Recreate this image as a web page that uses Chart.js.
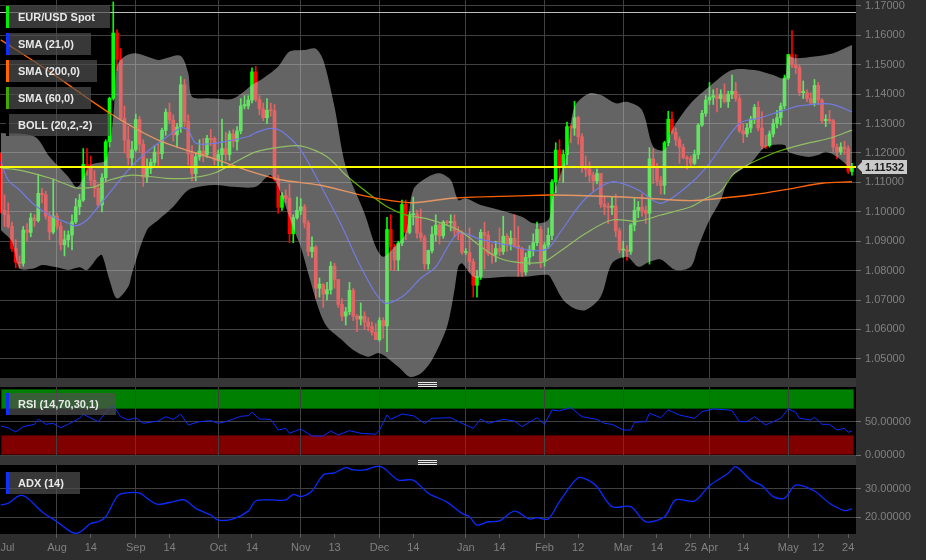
<!DOCTYPE html>
<html>
<head>
<meta charset="utf-8">
<script src="https://cdn.jsdelivr.net/npm/chart.js@4.4.1/dist/chart.umd.min.js"></script>
<style>
  body { margin: 0; background: #2e2e2e; width: 926px; height: 560px; overflow: hidden; position: relative;
         font-family: "Liberation Sans", Arial, sans-serif; }
  canvas { position: absolute; left: 0; }
  .sep { position: absolute; left: 0; width: 856px; height: 9px; background: #363636; }
  .grip { position: absolute; left: 418px; top: 4px; width: 19px; height: 3px;
          border-top: 1px solid #e8e8e8; border-bottom: 1px solid #e8e8e8; }
  .grip:after { content: ""; position: absolute; left: 0; right: 0; top: 1px; height: 1px; background: #e8e8e8; }
  .tag { position: absolute; left: 6px; height: 22px; line-height: 22px; box-sizing: border-box;
         background: rgba(80,80,80,0.7); color: #e8e8e8; font-weight: bold; font-size: 11px;
         border-left: 3px solid; padding-left: 9px; white-space: nowrap; }
</style>
</head>
<body>
<div class="sep" style="top:378px"><div class="grip"></div></div>
<div class="sep" style="top:456px"><div class="grip"></div></div>
<canvas id="mainChart" width="926" height="378" style="top:0"></canvas>
<canvas id="rsiChart" width="926" height="82" style="top:381px"></canvas>
<canvas id="adxChart" width="926" height="95" style="top:465px"></canvas>
<div class="tag" style="top:6px;width:104px;border-color:#00ee00">EUR/USD Spot</div>
<div class="tag" style="top:33px;width:85px;border-color:#1030ff">SMA (21,0)</div>
<div class="tag" style="top:60px;width:91px;border-color:#ff6600">SMA (200,0)</div>
<div class="tag" style="top:87px;width:85px;border-color:#40a800">SMA (60,0)</div>
<div class="tag" style="top:114px;width:104px;border-color:#000">BOLL (20,2,-2)</div>
<div class="tag" style="top:393px;width:110px;border-color:#1030ff">RSI (14,70,30,1)</div>
<div class="tag" style="top:472px;width:74px;border-color:#1030ff">ADX (14)</div>
<script>
Chart.defaults.font.family = '"Liberation Sans", Arial, sans-serif';
Chart.defaults.animation = false;

// daily candles, trading day 8 (13 Jul 2015) to day 235 (25 May 2016)
var firstDay = 8;
var openP = [
  1.1160,1.1005,1.0990,1.0950,1.0875,1.0828,1.0825,1.0938,1.0930,1.0979,
  1.0970,1.1063,1.1058,1.0985,1.0931,1.0986,1.0951,1.0888,1.0905,1.0921,
  1.0966,1.1017,1.1040,1.1161,1.1149,1.1107,1.1080,1.1023,1.1116,1.1238,
  1.1386,1.1608,1.1519,1.1318,1.1244,1.1183,1.1211,1.1314,1.1230,1.1118,
  1.1148,1.1168,1.1203,1.1198,1.1277,1.1339,1.1312,1.1262,1.1288,1.1432,
  1.1307,1.1197,1.1130,1.1187,1.1207,1.1195,1.1250,1.1250,1.1175,1.1195,
  1.1215,1.1195,1.1265,1.1240,1.1275,1.1360,1.1360,1.1380,1.1476,1.1382,
  1.1350,1.1320,1.1345,1.1344,1.1110,1.1015,1.1055,1.1046,1.0925,1.0980,
  1.1005,1.1017,1.0962,1.0865,1.0880,1.0740,1.0754,1.0720,1.0735,1.0815,
  1.0770,1.0685,1.0645,1.0660,1.0733,1.0645,1.0635,1.0645,1.0625,1.0610,
  1.0590,1.0565,1.0630,1.0612,1.0940,1.0880,1.0836,1.0894,1.1025,1.0930,
  1.0990,1.0993,1.0928,1.0912,1.0823,1.0868,1.0923,1.0955,1.0918,1.0965,
  1.0963,1.0967,1.0935,1.0928,1.0862,1.0862,1.0830,1.0750,1.0780,1.0930,
  1.0920,1.0858,1.0855,1.0875,1.0865,1.0917,1.0890,1.0910,1.0885,1.0875,
  1.0795,1.0845,1.0870,1.0895,1.0940,1.0830,1.0887,1.0920,1.1102,1.1210,
  1.1155,1.1195,1.1290,1.1285,1.1320,1.1255,1.1155,1.1145,1.1125,1.1105,
  1.1130,1.1025,1.1017,1.1015,1.1020,1.0935,1.0870,1.0870,1.0865,1.0955,
  1.1005,1.1015,1.1005,1.0995,1.1180,1.1150,1.1105,1.1090,1.1235,1.1315,
  1.1270,1.1245,1.1220,1.1185,1.1180,1.1165,1.1195,1.1295,1.1335,1.1380,
  1.1390,1.1395,1.1385,1.1400,1.1375,1.1400,1.1410,1.1385,1.1275,1.1265,
  1.1285,1.1315,1.1355,1.1285,1.1225,1.1225,1.1265,1.1300,1.1320,1.1360,
  1.1455,1.1535,1.1500,1.1490,1.1405,1.1405,1.1385,1.1370,1.1430,1.1380,
  1.1310,1.1315,1.1310,1.1220,1.1205,1.1220,1.1215,1.1137
];
var highP = [
  1.1200,1.1058,1.1030,1.0965,1.0905,1.0850,1.0950,1.0960,1.0995,1.0990,
  1.1128,1.1080,1.1070,1.0998,1.1112,1.0995,1.0965,1.0935,1.0935,1.0990,
  1.1045,1.1060,1.1215,1.1215,1.1190,1.1140,1.1095,1.1130,1.1245,1.1390,
  1.1714,1.1620,1.1555,1.1360,1.1290,1.1240,1.1332,1.1325,1.1245,1.1180,
  1.1180,1.1225,1.1230,1.1285,1.1350,1.1370,1.1330,1.1300,1.1460,1.1450,
  1.1330,1.1225,1.1200,1.1245,1.1250,1.1260,1.1280,1.1255,1.1210,1.1315,
  1.1270,1.1275,1.1280,1.1290,1.1385,1.1395,1.1395,1.1490,1.1495,1.1395,
  1.1370,1.1385,1.1370,1.1365,1.1125,1.1065,1.1075,1.1095,1.0990,1.1050,
  1.1045,1.1025,1.0970,1.0915,1.0885,1.0775,1.0755,1.0760,1.0830,1.0825,
  1.0770,1.0705,1.0675,1.0760,1.0740,1.0650,1.0690,1.0660,1.0640,1.0625,
  1.0620,1.0640,1.0640,1.0981,1.0990,1.0890,1.0900,1.1040,1.1040,1.1000,
  1.1050,1.1005,1.1010,1.0920,1.0870,1.0950,1.0990,1.0960,1.0970,1.0970,
  1.0990,1.0990,1.0950,1.0935,1.0875,1.0945,1.0840,1.0800,1.0940,1.0965,
  1.0935,1.0890,1.0900,1.0945,1.0985,1.0925,1.0935,1.0990,1.0950,1.0880,
  1.0860,1.0885,1.0925,1.0965,1.0950,1.0895,1.0945,1.1110,1.1235,1.1245,
  1.1210,1.1305,1.1295,1.1376,1.1325,1.1265,1.1190,1.1170,1.1135,1.1145,
  1.1130,1.1050,1.1030,1.1050,1.1060,1.0945,1.0900,1.0885,1.0960,1.1045,
  1.1035,1.1060,1.1020,1.1218,1.1215,1.1165,1.1120,1.1240,1.1342,1.1340,
  1.1285,1.1255,1.1230,1.1190,1.1190,1.1210,1.1300,1.1345,1.1395,1.1440,
  1.1415,1.1420,1.1415,1.1435,1.1410,1.1465,1.1440,1.1400,1.1300,1.1300,
  1.1325,1.1365,1.1375,1.1340,1.1260,1.1275,1.1315,1.1345,1.1370,1.1465,
  1.1535,1.1616,1.1535,1.1500,1.1445,1.1415,1.1405,1.1450,1.1440,1.1385,
  1.1330,1.1345,1.1315,1.1230,1.1235,1.1240,1.1225,1.1165
];
var lowP = [
  1.0996,1.0950,1.0945,1.0865,1.0810,1.0808,1.0815,1.0900,1.0915,1.0950,
  1.0965,1.1030,1.0975,1.0905,1.0925,1.0940,1.0870,1.0850,1.0880,1.0870,
  1.0960,1.0990,1.1035,1.1125,1.1090,1.1050,1.1015,1.1000,1.1105,1.1220,
  1.1380,1.1480,1.1310,1.1200,1.1160,1.1155,1.1205,1.1205,1.1087,1.1100,
  1.1130,1.1150,1.1150,1.1180,1.1260,1.1300,1.1240,1.1220,1.1270,1.1290,
  1.1160,1.1105,1.1105,1.1175,1.1170,1.1185,1.1225,1.1160,1.1150,1.1150,
  1.1175,1.1175,1.1220,1.1210,1.1265,1.1350,1.1350,1.1370,1.1375,1.1330,
  1.1310,1.1300,1.1325,1.1105,1.0995,1.1005,1.1030,1.0895,1.0895,1.0975,
  1.0990,1.0945,1.0850,1.0845,1.0705,1.0710,1.0675,1.0700,1.0720,1.0740,
  1.0675,1.0630,1.0615,1.0650,1.0630,1.0592,1.0615,1.0600,1.0595,1.0580,
  1.0565,1.0560,1.0570,1.0524,1.0800,1.0800,1.0800,1.0885,1.0905,1.0925,
  1.0955,1.0910,1.0900,1.0805,1.0805,1.0860,1.0900,1.0890,1.0910,1.0955,
  1.0935,1.0915,1.0905,1.0855,1.0855,1.0795,1.0710,1.0710,1.0770,1.0805,
  1.0850,1.0825,1.0830,1.0850,1.0855,1.0865,1.0870,1.0880,1.0780,1.0780,
  1.0785,1.0820,1.0850,1.0885,1.0810,1.0815,1.0875,1.0905,1.1065,1.1105,
  1.1100,1.1160,1.1235,1.1260,1.1230,1.1135,1.1120,1.1100,1.1070,1.1095,
  1.1015,1.0990,1.0960,1.0990,1.0915,1.0860,1.0845,1.0835,1.0855,1.0935,
  1.0980,1.0985,1.0960,1.0822,1.1095,1.1090,1.1060,1.1060,1.1225,1.1265,
  1.1225,1.1165,1.1180,1.1145,1.1150,1.1160,1.1180,1.1290,1.1325,1.1365,
  1.1365,1.1340,1.1355,1.1370,1.1355,1.1385,1.1375,1.1270,1.1235,1.1255,
  1.1270,1.1300,1.1275,1.1215,1.1215,1.1220,1.1255,1.1285,1.1295,1.1350,
  1.1450,1.1490,1.1470,1.1395,1.1385,1.1375,1.1365,1.1360,1.1365,1.1300,
  1.1290,1.1300,1.1205,1.1180,1.1195,1.1195,1.1130,1.1125
];
var closeP = [
  1.1005,1.0990,1.0950,1.0875,1.0828,1.0825,1.0938,1.0930,1.0979,1.0970,
  1.1063,1.1058,1.0985,1.0931,1.0986,1.0951,1.0888,1.0905,1.0921,1.0966,
  1.1017,1.1040,1.1161,1.1149,1.1107,1.1080,1.1023,1.1116,1.1238,1.1386,
  1.1608,1.1519,1.1318,1.1244,1.1183,1.1211,1.1314,1.1230,1.1118,1.1148,
  1.1168,1.1203,1.1198,1.1277,1.1339,1.1312,1.1262,1.1288,1.1432,1.1307,
  1.1197,1.1130,1.1187,1.1207,1.1195,1.1250,1.1245,1.1175,1.1195,1.1215,
  1.1195,1.1265,1.1240,1.1275,1.1360,1.1365,1.1380,1.1476,1.1382,1.1350,
  1.1320,1.1345,1.1344,1.1110,1.1015,1.1055,1.1046,1.0925,1.0980,1.1005,
  1.1017,1.0962,1.0865,1.0880,1.0740,1.0754,1.0720,1.0735,1.0815,1.0770,
  1.0685,1.0645,1.0660,1.0733,1.0645,1.0635,1.0645,1.0625,1.0610,1.0590,
  1.0565,1.0630,1.0612,1.0940,1.0880,1.0836,1.0894,1.1025,1.0930,1.0990,
  1.0993,1.0928,1.0912,1.0823,1.0868,1.0923,1.0955,1.0918,1.0965,1.0963,
  1.0967,1.0935,1.0928,1.0862,1.0862,1.0830,1.0750,1.0780,1.0930,1.0920,
  1.0858,1.0855,1.0875,1.0865,1.0917,1.0890,1.0910,1.0885,1.0875,1.0795,
  1.0845,1.0870,1.0895,1.0940,1.0830,1.0887,1.0920,1.1102,1.1210,1.1155,
  1.1195,1.1290,1.1285,1.1320,1.1255,1.1155,1.1145,1.1125,1.1105,1.1130,
  1.1025,1.1017,1.1015,1.1020,1.0935,1.0870,1.0870,1.0865,1.0955,1.1005,
  1.1015,1.1005,1.0995,1.1180,1.1150,1.1105,1.1090,1.1235,1.1315,1.1270,
  1.1245,1.1220,1.1185,1.1180,1.1165,1.1195,1.1295,1.1335,1.1380,1.1390,
  1.1395,1.1385,1.1400,1.1375,1.1400,1.1410,1.1385,1.1275,1.1265,1.1285,
  1.1315,1.1355,1.1285,1.1225,1.1220,1.1265,1.1300,1.1320,1.1360,1.1455,
  1.1535,1.1500,1.1490,1.1405,1.1410,1.1385,1.1370,1.1430,1.1380,1.1310,
  1.1315,1.1310,1.1220,1.1205,1.1220,1.1215,1.1137,1.1153
];

// overlays (day index -> price)
var sma21Day = [8,10,13,17,21,26,28,31,34,37,42,46,50,56,58,60,65,74,76,80,83,88,93,99,104,110,115,120,124,130,
                136,143,150,154,157,164,171,178,184,192,197,205,210,217,221,229,235];
var sma21Val = [1.1170,1.1108,1.1074,1.1023,1.0989,1.0961,1.0952,1.0972,1.1017,1.1064,1.1142,1.1193,1.1233,1.1285,1.1278,
                1.1233,1.1233,1.1256,1.1269,1.1284,1.1273,1.1210,1.1097,1.0950,1.0813,1.0692,1.0711,1.0774,1.0813,1.0927,
                1.0906,1.0887,1.0868,1.0876,1.0927,1.1046,1.1102,1.1074,1.1029,1.1097,1.1165,1.1301,1.1318,1.1346,1.1360,
                1.1367,1.1340];
var sma60Day = [8,13,21,26,28,33,37,43,52,58,65,70,76,83,88,95,100,106,111,116,122,130,141,152,157,164,171,178,184,192,
                196,200,204,214,223,229,235];
var sma60Val = [1.1149,1.1142,1.1115,1.1091,1.1081,1.1085,1.1108,1.1125,1.1114,1.1114,1.1132,1.1165,1.1204,1.1221,1.1224,
                1.1187,1.1125,1.1063,1.1017,1.0989,1.0975,1.0938,1.0842,1.0827,1.0864,1.0927,1.0972,1.0968,1.0989,1.1017,
                1.1045,1.1070,1.1135,1.1199,1.1233,1.1250,1.1278];
var sma200Day = [8,21,37,50,65,75,83,93,105,112,118,129,146,155,170,179,192,200,208,218,227,235];
var sma200Val = [1.1585,1.1477,1.1336,1.1244,1.1180,1.1136,1.1108,1.1091,1.1054,1.1038,1.1031,1.1047,1.1054,1.1057,1.1052,
                 1.1047,1.1038,1.1046,1.1057,1.1077,1.1097,1.1102];
var bandUpDay = [8,17,21,26,28,29,32,36,38,39,41,44,50,52,56,58,59,63,65,70,75,78,82,85,89,92,94,97,100,105,
                 108,110,113,116,118,122,125,128,130,132,136,141,147,150,154,155,159,161,165,168,172,175,179,182,185,187,
                 192,197,203,209,214,217,218,220,225,230,235];
var bandUpVal = [1.1268,1.1256,1.1187,1.1119,1.1085,1.1091,1.1159,1.1176,1.1323,1.1494,1.1528,1.1539,1.1516,1.1522,1.1530,
                 1.1471,1.1391,1.1386,1.1385,1.1385,1.1431,1.1454,1.1494,1.1545,1.1550,1.1555,1.1516,1.1357,1.1153,1.0995,
                 1.0881,1.0847,1.0881,1.0927,1.1075,1.1119,1.1131,1.1108,1.1040,1.1046,1.1023,1.1006,1.0983,1.0961,1.0972,
                 1.1040,1.1199,1.1357,1.1403,1.1397,1.1369,1.1374,1.1346,1.1221,1.1210,1.1278,1.1369,1.1426,1.1482,1.1482,
                 1.1465,1.1454,1.1528,1.1522,1.1528,1.1539,1.1567];
var bandLoDay = [8,11,13,17,19,23,26,29,31,34,35,37,39,42,43,47,50,54,57,59,65,70,76,79,80,82,86,88,90,93,
                 95,99,102,106,109,114,117,120,123,127,129,130,131,134,137,143,148,154,155,158,161,164,168,171,175,178,
                 181,184,188,192,194,197,200,202,204,208,212,217,218,223,226,228,231,234,235];
var bandLoVal = [1.0938,1.0898,1.0808,1.0808,1.0819,1.0811,1.0802,1.0811,1.0802,1.0847,1.0853,1.0768,1.0705,1.0745,1.0791,
                 1.0938,1.0972,1.1017,1.1063,1.1080,1.1091,1.1085,1.1085,1.1119,1.1125,1.1085,1.0945,1.0881,1.0790,1.0662,
                 1.0609,1.0564,1.0530,1.0507,1.0519,1.0473,1.0439,1.0450,1.0496,1.0609,1.0734,1.0813,1.0825,1.0779,1.0774,
                 1.0779,1.0779,1.0785,1.0768,1.0700,1.0671,1.0666,1.0711,1.0825,1.0847,1.0813,1.0830,1.0838,1.0802,1.0813,
                 1.0881,1.0972,1.1040,1.1108,1.1131,1.1165,1.1221,1.1227,1.1204,1.1187,1.1193,1.1204,1.1187,1.1153,1.1131];

// RSI (14) and ADX (14)
var rsiDay = [8,10,12,14,17,18,20,22,24,26,29,30,34,37,38,40,42,44,46,50,52,54,56,58,61,64,66,68,72,74,
              75,77,80,82,84,85,88,91,94,96,98,101,104,108,109,111,112,115,118,121,123,128,131,134,136,138,142,145,147,151,
              153,155,157,160,163,167,169,171,174,176,177,180,181,184,186,189,193,195,198,202,203,205,207,209,212,216,218,220,221,224,
              225,227,229,231,233,234,235];
var rsiVal = [44,41,35,43,46.5,54.5,46.5,48,41.4,46.5,55.6,61.7,50.5,70.7,74.7,58,53,56.5,48,51.5,58,54,61.7,45.5,50.5,52,48,50.5,58.6,59.6,
              64.7,54.5,54,37.9,40.4,32.9,39.4,28.8,28.8,36.4,30.3,36.9,32.9,31.4,37.9,60.6,54,62.1,59.6,48,55.6,56.5,48,40.4,54.5,48,54,51.5,42.9,56.5,
              46.5,68.2,66.7,71.7,58,54,48,46.5,37.9,37.9,49.5,50.5,63.2,56.5,68.2,60.6,55.6,65.6,69.7,68.2,67.1,50.5,50.5,58,45.5,55.6,69.7,64.7,55.6,53,
              57.1,46.5,46.5,37.9,40.4,34.4,36.4];
var adxDay = [8,10,13,15,19,23,27,29,32,34,36,39,41,45,48,50,54,57,60,64,66,70,74,76,80,84,86,88,91,94,
              97,100,102,105,108,110,114,118,122,127,131,133,135,138,141,145,149,151,154,157,162,165,167,171,176,180,185,188,193,197,
              202,204,208,211,214,217,220,225,229,233,235];
var adxVal = [24.3,24.9,27.6,26.9,21.9,18.3,14.5,14.5,17.7,18.3,20.1,27.3,28.5,28.5,25.7,24.5,25.5,26.1,23.1,20.7,18.9,19.3,22.1,25.7,26.1,26.1,28.1,27.3,29.3,35,
              35.8,37.6,36.8,36.8,38,37.6,33.2,33.2,28.5,25.3,21.3,20.1,17.1,18.3,18.6,22.1,19.3,19.8,19.3,25.5,34,32.9,30.8,23.7,23.7,18.3,20.1,26.1,25.7,31.2,
              35.6,38,33.2,31.2,27.3,26.7,31.4,29.3,24.9,22.3,22.9];

// axes
var tickDay  = [9.8, 23, 32, 44, 53, 66, 75, 88, 97, 109, 118, 132, 141, 153, 162, 174, 183, 192, 197, 206, 218, 226, 234];
var tickText = ['Jul','Aug','14','Sep','14','Oct','14','Nov','13','Dec','14','Jan','14','Feb','12','Mar','14','25','Apr','14','May','12','24'];
var monthDay = [23, 44, 66, 88, 109, 132, 153, 174, 197, 218];
var priceTicks = [1.05,1.06,1.07,1.08,1.09,1.10,1.11,1.12,1.13,1.14,1.15,1.16,1.17];
var rsiTicks = [0, 50];
var adxTicks = [20, 30];
var lastPrice = 1.11532;
var refLevel = 1.1680;
var rsiHigh = 70, rsiLow = 30;
var xMin = 7.8, xMax = 236.07;

function pts(days, vals) {
  return days.map(function (d, i) { return { x: d, y: vals[i] }; });
}

var candleColors = openP.map(function (o, i) { return closeP[i] >= o ? '#00ff00' : '#ff0000'; });
var wickData = lowP.map(function (l, i) { return { x: firstDay + i, y: [l, highP[i]] }; });
var bodyData = openP.map(function (o, i) { return { x: firstDay + i, y: [o, closeP[i]] }; });

function xAxis(showLabels) {
  return {
    type: 'linear', min: xMin, max: xMax, offset: false,
    afterBuildTicks: function (s) { s.ticks = tickDay.map(function (v) { return { value: v }; }); },
    afterFit: function (s) { s.height = showLabels ? 26 : 0; s.paddingLeft = 0; s.paddingRight = 0; },
    grid: {
      offset: false, drawTicks: showLabels, tickLength: 4,
      color: function (c) { return c.tick && monthDay.indexOf(c.tick.value) >= 0 ? '#404040' : 'rgba(0,0,0,0)'; },
      tickColor: function (c) { return c.tick && c.tick.value === tickDay[0] ? 'rgba(0,0,0,0)' : '#5c5c5c'; }
    },
    border: { display: false },
    ticks: { display: showLabels, autoSkip: false, maxRotation: 0, color: '#808080', padding: 3,
             font: { size: 11 }, callback: function (v, i) { return tickText[i]; } }
  };
}

function yAxis(min, max, ticks) {
  return {
    position: 'right', min: min, max: max,
    afterBuildTicks: function (s) { s.ticks = ticks.map(function (v) { return { value: v }; }); },
    afterFit: function (s) { s.width = 70; s.paddingTop = 0; s.paddingBottom = 0; },
    grid: { color: '#404040', tickLength: 5, tickColor: '#6e6e6e' },
    border: { display: false },
    ticks: { color: '#808080', padding: 4, font: { size: 11 }, callback: function (v) { return v.toFixed(5); } }
  };
}

var blackArea = {
  id: 'blackArea',
  beforeDraw: function (chart) {
    var a = chart.chartArea, ctx = chart.ctx;
    ctx.save();
    ctx.fillStyle = '#000';
    ctx.fillRect(a.left, a.top, a.right - a.left, a.bottom - a.top);
    ctx.restore();
  }
};

var priceLines = {
  id: 'priceLines',
  afterDatasetsDraw: function (chart) {
    var a = chart.chartArea, ctx = chart.ctx, y = chart.scales.y;
    var yr = Math.round(y.getPixelForValue(refLevel)) + 0.5;
    var yl = Math.round(y.getPixelForValue(lastPrice));
    ctx.save();
    ctx.strokeStyle = '#bdbdbd'; ctx.lineWidth = 1;
    ctx.beginPath(); ctx.moveTo(a.left, yr); ctx.lineTo(a.right, yr); ctx.stroke();
    ctx.strokeStyle = '#ffff00'; ctx.lineWidth = 2;
    ctx.beginPath(); ctx.moveTo(a.left, yl); ctx.lineTo(a.right, yl); ctx.stroke();
    ctx.restore();
  },
  afterDraw: function (chart) {
    var a = chart.chartArea, ctx = chart.ctx, y = chart.scales.y;
    var yl = Math.round(y.getPixelForValue(lastPrice));
    var x0 = a.right + 6;
    ctx.save();
    ctx.fillStyle = '#cacaca';
    ctx.beginPath();
    ctx.moveTo(a.right + 1, yl);
    ctx.lineTo(x0, yl - 5);
    ctx.lineTo(x0, yl + 5);
    ctx.closePath(); ctx.fill();
    ctx.fillRect(x0, yl - 7, 45, 14);
    ctx.fillStyle = '#1c1c1c';
    ctx.font = 'bold 11px "Liberation Sans", Arial, sans-serif';
    ctx.textAlign = 'center'; ctx.textBaseline = 'middle';
    ctx.fillText(lastPrice.toFixed(5), x0 + 22.5, yl + 1);
    ctx.restore();
  }
};

var rsiZones = {
  id: 'rsiZones',
  beforeDraw: function (chart) {
    var a = chart.chartArea, ctx = chart.ctx, y = chart.scales.y;
    ctx.save();
    ctx.fillStyle = '#000';
    ctx.fillRect(a.left, a.top, a.right - a.left, a.bottom - a.top);
    function zone(from, to, fill, edge) {
      var t = Math.round(y.getPixelForValue(to)), b = Math.round(y.getPixelForValue(from));
      ctx.fillStyle = fill;
      ctx.fillRect(a.left + 1, t, a.right - a.left - 3, b - t);
      ctx.strokeStyle = edge; ctx.lineWidth = 1;
      ctx.strokeRect(a.left + 1.5, t + 0.5, a.right - a.left - 4, b - t - 1);
    }
    zone(rsiHigh, 100, '#008000', '#004c00');
    zone(0, rsiLow, '#800000', '#4a0000');
    ctx.restore();
  }
};

var common = {
  responsive: false, devicePixelRatio: 1, events: [],
  plugins: { legend: { display: false }, tooltip: { enabled: false } }
};

// price panel
var mainChart = new Chart(document.getElementById('mainChart'), {
  type: 'bar',
  data: {
    datasets: [
      { type: 'line', label: 'BOLL upper', data: pts(bandUpDay, bandUpVal), borderColor: 'rgba(0,0,0,0)', borderWidth: 1,
        pointRadius: 0, fill: '+1', backgroundColor: 'rgba(200,200,200,0.5)', tension: 0.3, order: 0 },
      { type: 'line', label: 'BOLL lower', data: pts(bandLoDay, bandLoVal), borderColor: 'rgba(0,0,0,0)', borderWidth: 1,
        pointRadius: 0, fill: false, tension: 0.3, order: 0 },
      { type: 'line', label: 'SMA (200,0)', data: pts(sma200Day, sma200Val), borderColor: '#ff6400', borderWidth: 1.4,
        pointRadius: 0, fill: false, tension: 0.3, order: 2 },
      { type: 'line', label: 'SMA (60,0)', data: pts(sma60Day, sma60Val), borderColor: '#5cb400', borderWidth: 1.2,
        pointRadius: 0, fill: false, tension: 0.3, order: 2 },
      { type: 'line', label: 'SMA (21,0)', data: pts(sma21Day, sma21Val), borderColor: '#1c2cff', borderWidth: 1.2,
        pointRadius: 0, fill: false, tension: 0.3, order: 2 },
      { label: 'wick', data: wickData, backgroundColor: candleColors, barThickness: 1, grouped: false, order: 4 },
      { label: 'EUR/USD Spot', data: bodyData, backgroundColor: candleColors, barThickness: 3, minBarLength: 1,
        grouped: false, order: 3 }
    ]
  },
  options: Object.assign({}, common, {
    scales: { x: xAxis(false), y: yAxis(1.04347, 1.17204, priceTicks) }
  }),
  plugins: [blackArea, priceLines]
});

// RSI panel
var rsiChart = new Chart(document.getElementById('rsiChart'), {
  type: 'line',
  data: { datasets: [{ label: 'RSI (14,70,30,1)', data: pts(rsiDay, rsiVal), borderColor: '#0a2cff', borderWidth: 1,
                       pointRadius: 0, fill: false, tension: 0 }] },
  options: Object.assign({}, common, {
    layout: { padding: { top: 6, bottom: 7 } },
    scales: { x: xAxis(false), y: yAxis(-1.5, 103, rsiTicks) }
  }),
  plugins: [rsiZones]
});

// ADX panel
var adxChart = new Chart(document.getElementById('adxChart'), {
  type: 'line',
  data: { datasets: [{ label: 'ADX (14)', data: pts(adxDay, adxVal), borderColor: '#0a2cff', borderWidth: 1.3,
                       pointRadius: 0, fill: false, tension: 0.3 }] },
  options: Object.assign({}, common, {
    scales: { x: xAxis(true), y: yAxis(13.93, 38.57, adxTicks) }
  }),
  plugins: [blackArea]
});
</script>
</body>
</html>
